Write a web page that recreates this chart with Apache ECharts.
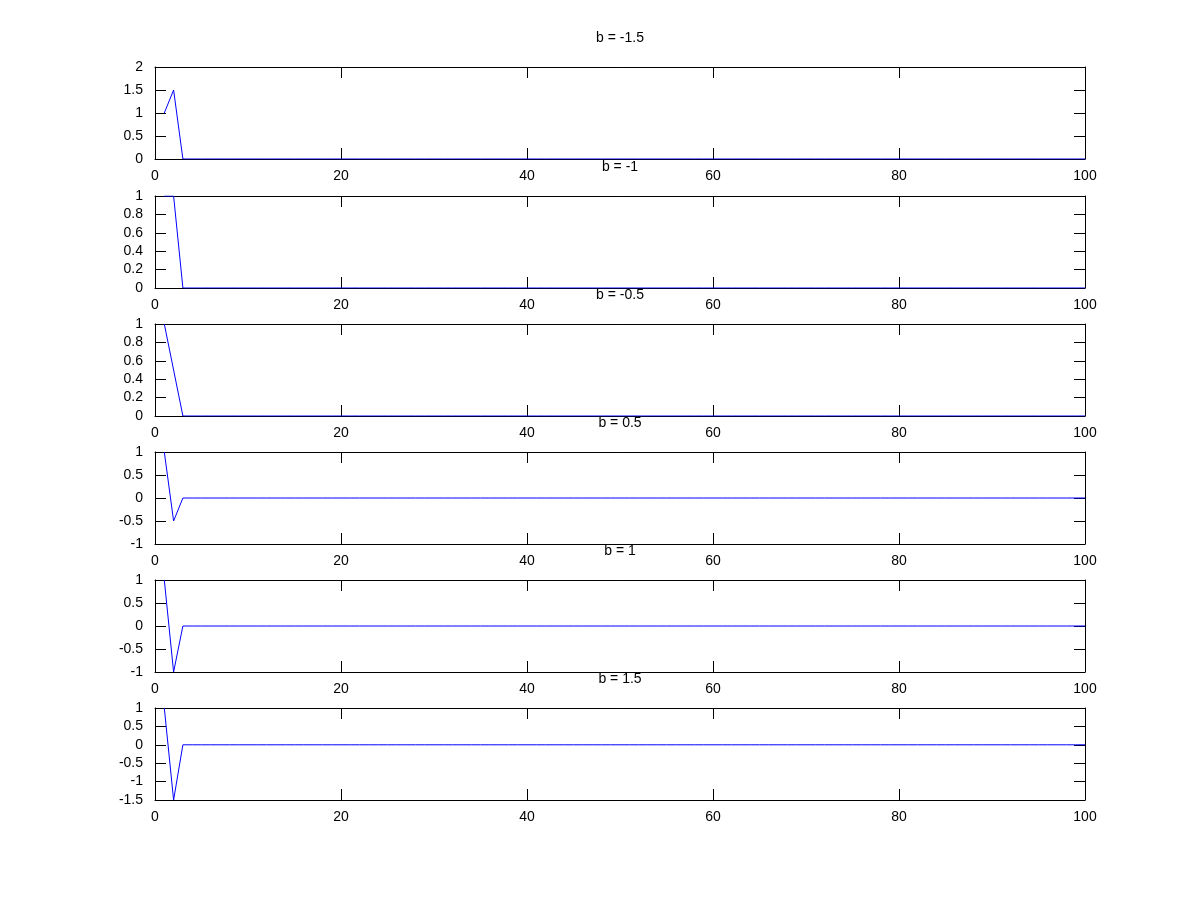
<!DOCTYPE html>
<html>
<head>
<meta charset="utf-8">
<script src="https://cdn.jsdelivr.net/npm/echarts@6/dist/echarts.min.js"></script>
<style>html,body{margin:0;padding:0;background:#fff;}#c{width:1200px;height:900px;}</style>
</head>
<body>
<div id="c"></div>
<script>
var titles = ['b = -1.5', 'b = -1', 'b = -0.5', 'b = 0.5', 'b = 1', 'b = 1.5'];
var xTicks = [0, 20, 40, 60, 80, 100];
var xValues = [
  1,2,3,4,5,6,7,8,9,10,
  11,12,13,14,15,16,17,18,19,20,
  21,22,23,24,25,26,27,28,29,30,
  31,32,33,34,35,36,37,38,39,40,
  41,42,43,44,45,46,47,48,49,50,
  51,52,53,54,55,56,57,58,59,60,
  61,62,63,64,65,66,67,68,69,70,
  71,72,73,74,75,76,77,78,79,80,
  81,82,83,84,85,86,87,88,89,90,
  91,92,93,94,95,96,97,98,99,100
];
var yBm15 = [
  1,1.5,0,0,0,0,0,0,0,0,
  0,0,0,0,0,0,0,0,0,0,
  0,0,0,0,0,0,0,0,0,0,
  0,0,0,0,0,0,0,0,0,0,
  0,0,0,0,0,0,0,0,0,0,
  0,0,0,0,0,0,0,0,0,0,
  0,0,0,0,0,0,0,0,0,0,
  0,0,0,0,0,0,0,0,0,0,
  0,0,0,0,0,0,0,0,0,0,
  0,0,0,0,0,0,0,0,0,0
];
var yBm1 = [
  1,1,0,0,0,0,0,0,0,0,
  0,0,0,0,0,0,0,0,0,0,
  0,0,0,0,0,0,0,0,0,0,
  0,0,0,0,0,0,0,0,0,0,
  0,0,0,0,0,0,0,0,0,0,
  0,0,0,0,0,0,0,0,0,0,
  0,0,0,0,0,0,0,0,0,0,
  0,0,0,0,0,0,0,0,0,0,
  0,0,0,0,0,0,0,0,0,0,
  0,0,0,0,0,0,0,0,0,0
];
var yBm05 = [
  1,0.5,0,0,0,0,0,0,0,0,
  0,0,0,0,0,0,0,0,0,0,
  0,0,0,0,0,0,0,0,0,0,
  0,0,0,0,0,0,0,0,0,0,
  0,0,0,0,0,0,0,0,0,0,
  0,0,0,0,0,0,0,0,0,0,
  0,0,0,0,0,0,0,0,0,0,
  0,0,0,0,0,0,0,0,0,0,
  0,0,0,0,0,0,0,0,0,0,
  0,0,0,0,0,0,0,0,0,0
];
var yBp05 = [
  1,-0.5,0,0,0,0,0,0,0,0,
  0,0,0,0,0,0,0,0,0,0,
  0,0,0,0,0,0,0,0,0,0,
  0,0,0,0,0,0,0,0,0,0,
  0,0,0,0,0,0,0,0,0,0,
  0,0,0,0,0,0,0,0,0,0,
  0,0,0,0,0,0,0,0,0,0,
  0,0,0,0,0,0,0,0,0,0,
  0,0,0,0,0,0,0,0,0,0,
  0,0,0,0,0,0,0,0,0,0
];
var yBp1 = [
  1,-1,0,0,0,0,0,0,0,0,
  0,0,0,0,0,0,0,0,0,0,
  0,0,0,0,0,0,0,0,0,0,
  0,0,0,0,0,0,0,0,0,0,
  0,0,0,0,0,0,0,0,0,0,
  0,0,0,0,0,0,0,0,0,0,
  0,0,0,0,0,0,0,0,0,0,
  0,0,0,0,0,0,0,0,0,0,
  0,0,0,0,0,0,0,0,0,0,
  0,0,0,0,0,0,0,0,0,0
];
var yBp15 = [
  1,-1.5,0,0,0,0,0,0,0,0,
  0,0,0,0,0,0,0,0,0,0,
  0,0,0,0,0,0,0,0,0,0,
  0,0,0,0,0,0,0,0,0,0,
  0,0,0,0,0,0,0,0,0,0,
  0,0,0,0,0,0,0,0,0,0,
  0,0,0,0,0,0,0,0,0,0,
  0,0,0,0,0,0,0,0,0,0,
  0,0,0,0,0,0,0,0,0,0,
  0,0,0,0,0,0,0,0,0,0
];
var seriesValues = [yBm15, yBm1, yBm05, yBp05, yBp1, yBp15];
var yMins = [0, 0, 0, -1, -1, -1.5];
var yMaxs = [2, 1, 1, 1, 1, 1];
var yIntervals = [0.5, 0.2, 0.2, 0.5, 0.5, 0.5];

var FONT = '"Liberation Sans", Arial, sans-serif';
var plotTops = [67, 196, 324, 452, 580, 708];
var plotH = 92, plotL = 155, plotW = 930, tickLen = 11;
var lineStyle = {color: '#000', width: 1};

var grids = [], xAxes = [], yAxes = [], series = [], titleList = [];
for (var i = 0; i < 6; i++) {
  grids.push({left: plotL, top: plotTops[i], width: plotW, height: plotH, containLabel: false});
  titleList.push({
    text: titles[i], left: plotL + plotW / 2, top: plotTops[i] - 36, textAlign: 'center', padding: 0,
    textStyle: {fontFamily: FONT, fontSize: 14, fontWeight: 'normal', color: '#000'}
  });
  var xb = {
    type: 'value', gridIndex: i, min: 0, max: 100, interval: 20, position: 'bottom',
    axisLine: {show: true, onZero: false, lineStyle: lineStyle},
    axisTick: {show: true, inside: true, length: tickLen, lineStyle: lineStyle},
    axisLabel: {show: true, margin: 10, fontFamily: FONT, fontSize: 14, color: '#000',
      customValues: xTicks},
    splitLine: {show: false}
  };
  var xt = {
    type: 'value', gridIndex: i, min: 0, max: 100, interval: 20, position: 'top',
    axisLine: {show: true, onZero: false, lineStyle: lineStyle},
    axisTick: {show: true, inside: true, length: tickLen, lineStyle: lineStyle},
    axisLabel: {show: false}, splitLine: {show: false}
  };
  xAxes.push(xb, xt);
  var yl = {
    type: 'value', gridIndex: i, min: yMins[i], max: yMaxs[i], interval: yIntervals[i], position: 'left',
    axisLine: {show: true, onZero: false, lineStyle: lineStyle},
    axisTick: {show: true, inside: true, length: tickLen, lineStyle: lineStyle},
    axisLabel: {show: true, margin: 12, fontFamily: FONT, fontSize: 14, color: '#000'},
    splitLine: {show: false}
  };
  var yr = {
    type: 'value', gridIndex: i, min: yMins[i], max: yMaxs[i], interval: yIntervals[i], position: 'right',
    axisLine: {show: true, onZero: false, lineStyle: lineStyle},
    axisTick: {show: true, inside: true, length: tickLen, lineStyle: lineStyle},
    axisLabel: {show: false}, splitLine: {show: false}
  };
  yAxes.push(yl, yr);
  var pts = [];
  for (var k = 0; k < xValues.length; k++) pts.push([xValues[k], seriesValues[i][k]]);
  series.push({
    type: 'line', xAxisIndex: 2 * i, yAxisIndex: 2 * i, data: pts,
    showSymbol: false, symbol: 'none', animation: false, clip: true,
    lineStyle: {color: '#0000ff', width: 1}
  });
}

var chart = echarts.init(document.getElementById('c'), null, {renderer: 'canvas'});
chart.setOption({
  backgroundColor: '#fff',
  animation: false,
  title: titleList,
  grid: grids,
  xAxis: xAxes,
  yAxis: yAxes,
  series: series
});
</script>
</body>
</html>
